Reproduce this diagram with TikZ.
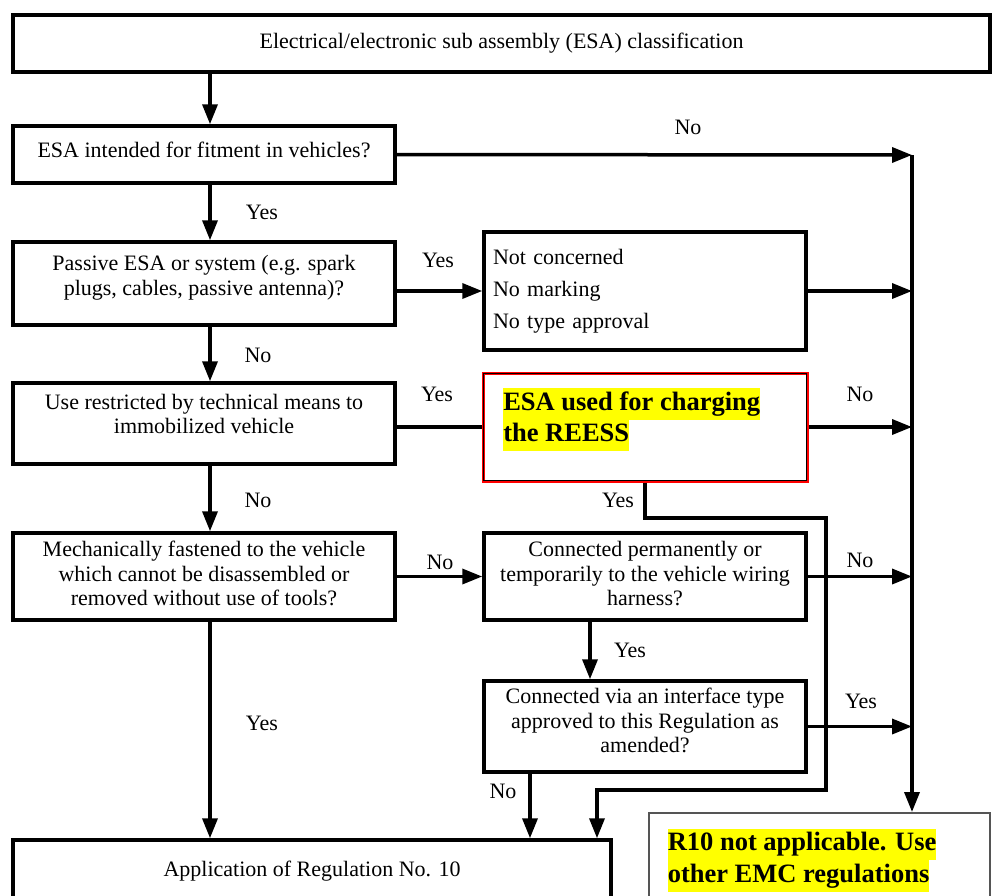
\documentclass[tikz,border=0pt]{standalone}
\usepackage{fontspec}
\setmainfont{Liberation Serif}
\usepackage{xcolor}
\usetikzlibrary{arrows.meta,calc,positioning}
\definecolor{hlcolor}{RGB}{255,255,0}
\definecolor{rcolor}{RGB}{255,0,0}
\definecolor{gcolor}{RGB}{85,85,85}
\newcommand{\hlline}[1]{{\fboxsep=0pt\colorbox{hlcolor}{\strut #1}}}

\begin{document}
\begin{tikzpicture}[x=1pt,y=-1pt,line width=3.5pt,>={Triangle[length=20pt,width=15pt]},
    box/.style={draw,line width=3.5pt,align=center,inner sep=0pt,font=\fontsize{22}{24.5}\selectfont},
    lbl/.style={inner sep=0pt,font=\fontsize{22}{24.5}\selectfont},
    hl/.style={inner sep=0pt,anchor=north west,align=left,font=\fontsize{26.5}{31.5}\selectfont\bfseries}]
  \useasboundingbox (0,0) rectangle (992,895);
  % left column
  \node[box,minimum width=977,minimum height=57] (top) at (501.5,43.5)
    {Electrical/electronic sub assembly (ESA) classification};
  \node[box,minimum width=382,minimum height=57,text depth=9] (q1) at (204,154.5)
    {ESA intended for fitment in vehicles?};
  \node[box,minimum width=382,minimum height=83,text depth=16] (q2) at (204,283.5)
    {Passive ESA or system (e.g. spark\\ plugs, cables, passive antenna)?};
  \node[box,minimum width=382,minimum height=81,text depth=19] (q3) at (204,423.5)
    {Use restricted by technical means to\\ immobilized vehicle};
  \node[box,minimum width=382,minimum height=87,text depth=6] (q4) at (204,576.5)
    {Mechanically fastened to the vehicle\\ which cannot be disassembled or\\ removed without use of tools?};
  \node[box,minimum width=598,minimum height=62] (app) at (312,871)
    {Application of Regulation No. 10};
  % middle column
  \node[box,align=left,text width=304,inner xsep=9pt,minimum height=118,
    font=\fontsize{22}{32}\selectfont] (nc) at (645,291)
    {Not concerned\\ No marking\\ No type approval};
  \node[draw=rcolor,line width=3pt,minimum width=324,minimum height=108,inner sep=0pt] (reess) at (645,427) {};
  \draw[line width=1.2pt] ([shift={(2,2)}]reess.north west) rectangle ([shift={(-2,-2)}]reess.south east);
  \node[hl] (reesstxt) at ([shift={(20,15)}]reess.north west)
    {\hlline{ESA used for charging}\\ \hlline{the REESS}};
  \node[box,minimum width=322,minimum height=87,text depth=6] (q5) at (645,576.5)
    {Connected permanently or\\ temporarily to the vehicle wiring\\ harness?};
  \node[box,minimum width=322,minimum height=91,text depth=12] (q6) at (645,726.5)
    {Connected via an interface type\\ approved to this Regulation as\\ amended?};
  % result on the right
  \node[draw=gcolor,line width=2pt,minimum width=341,minimum height=117,inner sep=0pt] (r10) at (819.5,871.5) {};
  \node[hl] (r10txt) at ([shift={(18,15)}]r10.north west)
    {\hlline{R10 not applicable. Use}\\ \hlline{other EMC regulations}};
  \coordinate (bus) at (912,155);
  \coordinate (yb1) at (826,518);
  \coordinate (yb2) at (597,790);

  % connectors
  \draw[->] ($(top.south -| q1.north)+(6,0)$) -- ($(q1.north)+(6,0)$);
  \foreach \a/\b in {q1/q2,q2/q3,q3/q4}
    \draw[->] ($(\a.south)+(6,0)$) -- ($(\b.north)+(6,0)$);
  \draw[->] ($(q4.south)+(6,0)$) -- ($(q4.south |- app.north)+(6,0)$);
  \draw[->] (q1.east) -- (bus);
  \draw[->] (bus) -- (bus |- r10.north);
  \draw[->] (q2.east |- nc.west) -- (nc.west);
  \draw[->] (nc.east) -- (nc.east -| bus);
  \draw (q3.east |- reess.west) -- (reess.west);
  \draw[->] (reess.east) -- (reess.east -| bus);
  \draw[->] (reess.south) |- (yb1) |- (yb2) -- (yb2 |- app.north);
  \draw[->] (q4.east) -- (q5.west);
  \draw[->] (q5.east) -- (q5.east -| bus);
  \draw[->] ([xshift=-55pt]q5.south) -- ([xshift=-55pt]q6.north);
  \draw[->] (q6.east) -- (q6.east -| bus);
  \draw[->] ($(q6.south)+(-115,0)$) -- ($(q6.south |- app.north)+(-115,0)$);

  % yes / no labels
  \foreach \n/\x/\y/\t in {lno1/688/127/No, lyes1/262/212/Yes, lyes2/438/260/Yes,
      lno2/258/355/No, lyes3/437/394/Yes, lno3/860/394/No, lno4/258/500/No,
      lyes4/618/500/Yes, lno5/440/562/No, lno6/860/560/No, lyes5/630/650/Yes,
      lyes6/861/701/Yes, lyes7/262/723/Yes, lno7/503/791/No}
    \node[lbl] (\n) at (\x,\y) {\t};
\end{tikzpicture}
\end{document}
